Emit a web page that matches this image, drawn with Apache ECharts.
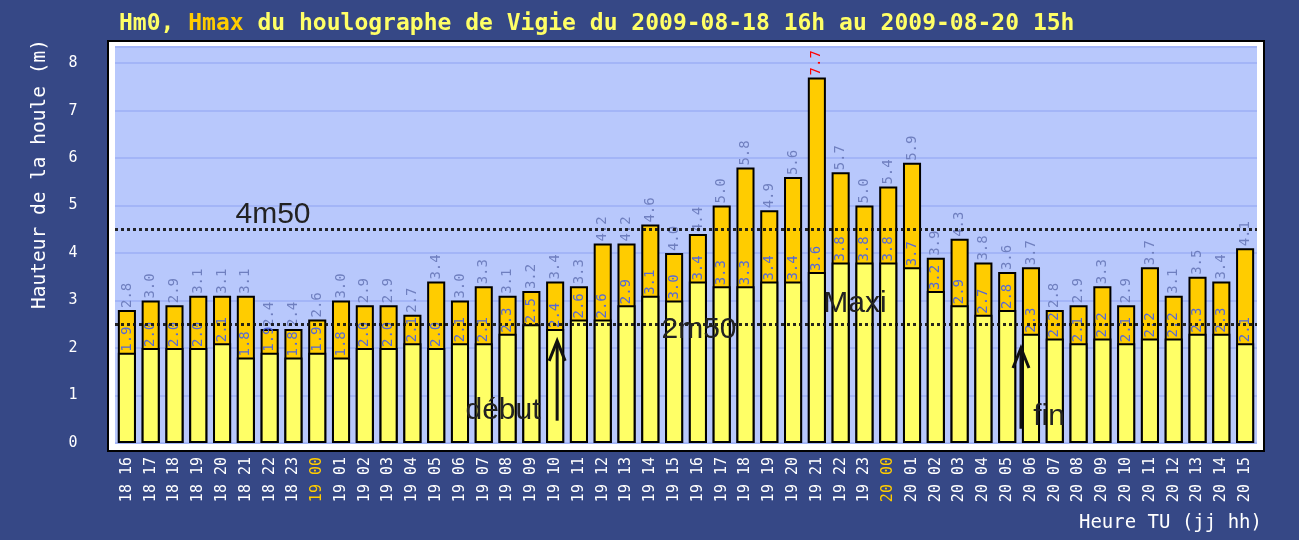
<!DOCTYPE html>
<html>
<head>
<meta charset="utf-8">
<title>Houlographe de Vigie</title>
<style>
  html, body { margin: 0; padding: 0; background: #364886; }
  #main { width: 1299px; height: 540px; }
</style>
<script src="https://cdn.jsdelivr.net/npm/echarts@6/dist/echarts.min.js"></script>
</head>
<body>
<div id="main"></div>
<script>
// heures TU (jj hh)
const categories = [
  '18 16', '18 17', '18 18', '18 19', '18 20', '18 21', '18 22', '18 23',
  '19 00', '19 01', '19 02', '19 03', '19 04', '19 05', '19 06', '19 07',
  '19 08', '19 09', '19 10', '19 11', '19 12', '19 13', '19 14', '19 15',
  '19 16', '19 17', '19 18', '19 19', '19 20', '19 21', '19 22', '19 23',
  '20 00', '20 01', '20 02', '20 03', '20 04', '20 05', '20 06', '20 07',
  '20 08', '20 09', '20 10', '20 11', '20 12', '20 13', '20 14', '20 15'
]
// hauteur significative Hm0 (m)
const hm0 = [
  1.9, 2.0, 2.0, 2.0, 2.1, 1.8, 1.9, 1.8,
  1.9, 1.8, 2.0, 2.0, 2.1, 2.0, 2.1, 2.1,
  2.3, 2.5, 2.4, 2.6, 2.6, 2.9, 3.1, 3.0,
  3.4, 3.3, 3.3, 3.4, 3.4, 3.6, 3.8, 3.8,
  3.8, 3.7, 3.2, 2.9, 2.7, 2.8, 2.3, 2.2,
  2.1, 2.2, 2.1, 2.2, 2.2, 2.3, 2.3, 2.1
]
// hauteur maximale Hmax (m)
const hmax = [
  2.8, 3.0, 2.9, 3.1, 3.1, 3.1, 2.4, 2.4,
  2.6, 3.0, 2.9, 2.9, 2.7, 3.4, 3.0, 3.3,
  3.1, 3.2, 3.4, 3.3, 4.2, 4.2, 4.6, 4.0,
  4.4, 5.0, 5.8, 4.9, 5.6, 7.7, 5.7, 5.0,
  5.4, 5.9, 3.9, 4.3, 3.8, 3.6, 3.7, 2.8,
  2.9, 3.3, 2.9, 3.7, 3.1, 3.5, 3.4, 4.1
]
// seuils en pointillés
const seuils = [4.5, 2.5]

const mono = 'DejaVu Sans Mono'
const maxi = Math.max(...hmax)

let chart = echarts.init(document.getElementById('main'))

// textes et cadre fixes
let baseGraphic = [
  {
    type: 'rect', z: -1,
    shape: { x: 108, y: 41, width: 1156, height: 410 },
    style: { fill: '#ffffff', stroke: '#000000', lineWidth: 2 }
  },
  {
    type: 'text', x: 40, y: 174, rotation: Math.PI / 2,
    style: { text: 'Hauteur de la houle (m)', fill: '#ffffff', font: '19.5px ' + mono, align: 'center', verticalAlign: 'middle' }
  },
  {
    type: 'text', x: 1262, y: 523,
    style: { text: 'Heure TU (jj hh)', fill: '#ffffff', font: '19px ' + mono, align: 'right', verticalAlign: 'middle' }
  },
  { type: 'text', x: 273, y: 215, z: 50, style: { text: '4m50', fill: '#222', font: '30px Liberation Sans', align: 'center', verticalAlign: 'middle' } },
  { type: 'text', x: 699, y: 330, z: 50, style: { text: '2m50', fill: '#222', font: '30px Liberation Sans', align: 'center', verticalAlign: 'middle' } },
  { type: 'text', x: 855, y: 304, z: 50, style: { text: 'Maxi', fill: '#222', font: '30px Liberation Sans', align: 'center', verticalAlign: 'middle' } },
  { type: 'text', x: 503, y: 411, z: 50, style: { text: 'début', fill: '#222', font: '30px Liberation Sans', align: 'center', verticalAlign: 'middle' } },
  { type: 'text', x: 1049, y: 417, z: 50, style: { text: 'fin', fill: '#222', font: '30px Liberation Sans', align: 'center', verticalAlign: 'middle' } }
]

let option = {
  backgroundColor: '#364886',
  animation: false,
  title: {
    left: 114,
    top: 8,
    text: '{a|Hm0, }{b|Hmax}{a| du houlographe de Vigie du 2009-08-18 16h au 2009-08-20 15h}',
    textStyle: {
      rich: {
        a: { color: '#ffff66', fontFamily: mono, fontWeight: 'bold', fontSize: 23 },
        b: { color: '#ffcc00', fontFamily: mono, fontWeight: 'bold', fontSize: 23 }
      }
    }
  },
  grid: {
    left: 115,
    right: 42,
    top: 47,
    bottom: 97,
    show: true,
    backgroundColor: '#b8c8fc',
    borderWidth: 0
  },
  xAxis: {
    type: 'category',
    data: categories,
    axisLine: { show: false },
    axisTick: { show: false },
    axisLabel: {
      interval: 0,
      rotate: 90,
      margin: 14,
      color: '#ffffff',
      fontFamily: mono,
      fontSize: 15,
      formatter: v => v.slice(3) === '00' ? '{h|' + v + '}' : v,
      rich: { h: { color: '#ffcc00', fontFamily: mono, fontSize: 15 } }
    }
  },
  yAxis: {
    type: 'value',
    min: 0,
    max: 8.34,
    interval: 1,
    axisLine: { show: false },
    axisTick: { show: false },
    axisLabel: {
      showMaxLabel: false,
      margin: 42,
      align: 'center',
      color: '#ffffff',
      fontFamily: mono,
      fontSize: 15
    },
    splitLine: { lineStyle: { color: '#a3b5f7', width: 2 } }
  },
  series: [
    {
      name: 'Hmax',
      type: 'bar',
      barWidth: '76%',
      barGap: '-100%',
      data: hmax.map(v => v === maxi ? { value: v, label: { color: '#ff0000' } } : v),
      itemStyle: { color: '#ffcc00', borderColor: '#000000', borderWidth: 2 },
      label: {
        show: true,
        position: 'top',
        rotate: 90,
        align: 'left',
        verticalAlign: 'middle',
        distance: 2,
        color: '#6f7fbf',
        fontFamily: mono,
        fontSize: 14,
        formatter: p => p.value.toFixed(1)
      }
    },
    {
      name: 'Hm0',
      type: 'bar',
      barWidth: '76%',
      barGap: '-100%',
      data: hm0,
      itemStyle: { color: '#ffff66', borderColor: '#000000', borderWidth: 2 },
      label: {
        show: true,
        position: 'top',
        rotate: 90,
        align: 'left',
        verticalAlign: 'middle',
        distance: 1,
        color: '#5468d8',
        fontFamily: mono,
        fontSize: 14,
        formatter: p => p.value.toFixed(1)
      },
      markLine: {
        silent: true,
        symbol: 'none',
        label: { show: false },
        lineStyle: { color: '#111111', width: 3, type: [3, 3], opacity: 0.9 },
        data: seuils.map(s => ({ yAxis: s }))
      }
    }
  ],
  graphic: baseGraphic
}

chart.setOption(option)

// flèches "début" et "fin" placées sur l'axe des catégories
function fleche(cat, y0, y1, dx) {
  let a = chart.convertToPixel({ gridIndex: 0 }, [cat, y0])
  let b = chart.convertToPixel({ gridIndex: 0 }, [cat, y1])
  let x = a[0] + dx
  return [
    { type: 'polyline', z: 50, shape: { points: [[x, a[1]], [x, b[1] + 2]] }, style: { stroke: '#111', lineWidth: 3, fill: null } },
    { type: 'polyline', z: 50, shape: { points: [[x - 8, b[1] + 20], [x, b[1]], [x + 8, b[1] + 20]] }, style: { stroke: '#111', lineWidth: 3, fill: null } }
  ]
}

chart.setOption({
  graphic: baseGraphic.concat(fleche('19 10', 0.47, 2.15, 2), fleche('20 06', 0.3, 2.0, -10))
})
</script>
</body>
</html>
